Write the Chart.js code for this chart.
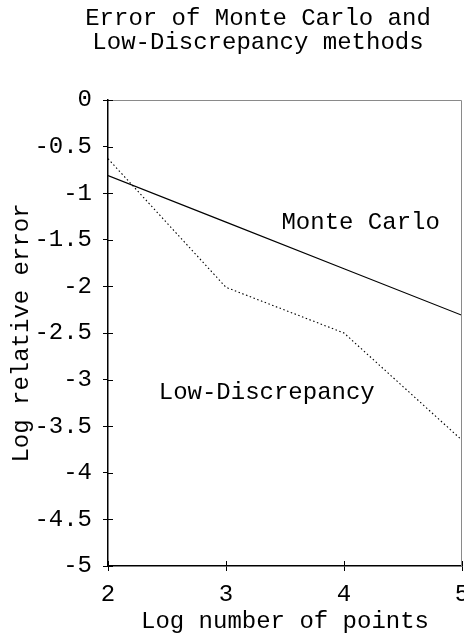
<!DOCTYPE html>
<html>
<head>
<meta charset="utf-8">
<script src="https://cdn.jsdelivr.net/npm/chart.js@4/dist/chart.umd.min.js"></script>
<style>
  html, body { margin: 0; padding: 0; background: #fff; }
  #wrap { width: 464px; height: 638px; position: relative; }
</style>
</head>
<body>
<div id="wrap"><canvas id="errChart"></canvas></div>
<script>
// データ（log10 のスケールで読んだ値）
const logPoints = [2, 3, 4, 5];
const monteCarlo = [-0.81, -1.31, -1.81, -2.31];
const lowDiscrepancy = [-0.63, -2.01, -2.5, -3.65];

// 文字ラベル
const titleLines = ['Error of Monte Carlo and', 'Low-Discrepancy methods'];
const curveNames = ['Monte Carlo', 'Low-Discrepancy'];
const curveNameX = [3.47, 2.43];
const curveNameY = [-1.32, -3.14];

const MONO = '"Liberation Mono", "DejaVu Sans Mono", monospace';

// 内向きの目盛り・枠・タイトル・曲線名を描く
const decorPlugin = {
  id: 'decor',
  afterDraw(chart) {
    const { ctx, chartArea: a, scales } = chart;
    ctx.save();
    // 上と右の枠（グレー）
    ctx.strokeStyle = '#8a8a8a';
    ctx.lineWidth = 1;
    ctx.beginPath();
    ctx.moveTo(a.left, a.top + 0.5);
    ctx.lineTo(a.right - 0.5, a.top + 0.5);
    ctx.lineTo(a.right - 0.5, a.bottom);
    ctx.stroke();
    // 内向きの目盛り
    ctx.strokeStyle = '#000';
    ctx.beginPath();
    scales.y.ticks.forEach(t => {
      const py = Math.round(scales.y.getPixelForValue(t.value)) + 0.5;
      ctx.moveTo(a.left, py);
      ctx.lineTo(a.left + 5, py);
    });
    scales.x.ticks.forEach(t => {
      const px = Math.round(scales.x.getPixelForValue(t.value)) + 0.5;
      ctx.moveTo(px, a.bottom);
      ctx.lineTo(px, a.bottom - 5);
    });
    ctx.stroke();
    // タイトル
    ctx.fillStyle = '#000';
    ctx.font = '24px ' + MONO;
    ctx.textAlign = 'center';
    ctx.textBaseline = 'middle';
    titleLines.forEach((line, i) => {
      ctx.fillText(line, 258, 19 + i * 23.5);
    });
    // 曲線名
    ctx.textAlign = 'left';
    curveNames.forEach((name, i) => {
      ctx.fillText(name,
        scales.x.getPixelForValue(curveNameX[i]),
        scales.y.getPixelForValue(curveNameY[i]));
    });
    ctx.restore();
  }
};

const ctx = document.getElementById('errChart').getContext('2d');
new Chart(ctx, {
  type: 'line',
  data: {
    datasets: [
      {
        label: curveNames[0],
        data: logPoints.map((x, i) => ({ x, y: monteCarlo[i] })),
        borderColor: '#000',
        borderWidth: 1.2,
        pointRadius: 0,
        tension: 0,
        fill: false
      },
      {
        label: curveNames[1],
        data: logPoints.map((x, i) => ({ x, y: lowDiscrepancy[i] })),
        borderColor: '#000',
        borderWidth: 1.1,
        borderDash: [1.5, 2.5],
        pointRadius: 0,
        tension: 0,
        fill: false
      }
    ]
  },
  options: {
    responsive: true,
    maintainAspectRatio: false,
    animation: false,
    layout: { autoPadding: false, padding: { top: 100, right: 2, left: 0, bottom: 0 } },
    plugins: {
      legend: { display: false },
      title: { display: false },
      tooltip: { enabled: false }
    },
    scales: {
      x: {
        type: 'linear',
        min: 2,
        max: 5,
        afterFit(s) { s.height = 72; s.paddingLeft = 0; s.paddingRight = 0; },
        border: { color: '#000', width: 1.5 },
        grid: { drawOnChartArea: false, drawTicks: true, tickLength: 5, color: '#000' },
        ticks: {
          stepSize: 1,
          padding: 12,
          color: '#000',
          maxRotation: 0,
          font: { family: MONO, size: 24, lineHeight: 1 },
          callback: v => String(v)
        },
        title: {
          display: true,
          text: 'Log number of points',
          color: '#000',
          font: { family: MONO, size: 24, lineHeight: 1 },
          padding: { top: 0, bottom: 4 }
        }
      },
      y: {
        type: 'linear',
        min: -5,
        max: 0,
        afterFit(s) { s.width = 108; s.paddingTop = 0; s.paddingBottom = 0; },
        border: { color: '#000', width: 1.5 },
        grid: { drawOnChartArea: false, drawTicks: true, tickLength: 5, color: '#000' },
        ticks: {
          stepSize: 0.5,
          padding: 11,
          color: '#000',
          font: { family: MONO, size: 24, lineHeight: 1 },
          callback: v => String(v)
        },
        title: {
          display: true,
          text: 'Log relative error',
          color: '#000',
          font: { family: MONO, size: 24, lineHeight: 1 },
          padding: { top: 10, bottom: 0 }
        }
      }
    }
  },
  plugins: [decorPlugin]
});
</script>
</body>
</html>
